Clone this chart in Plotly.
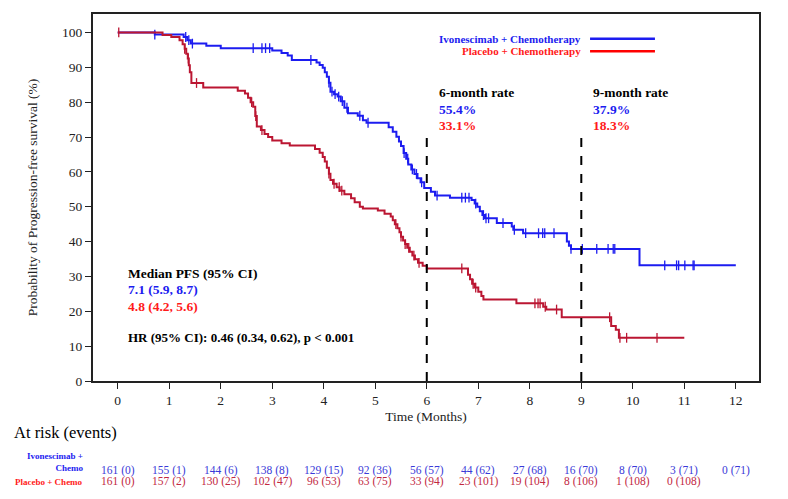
import numpy as np
import plotly.graph_objects as go

# ---------------- data ----------------
ivo_times = [0, 0.72, 1.28, 1.35, 1.42, 1.72, 2.0, 3.0, 3.18, 3.3, 3.38, 3.86, 3.92, 3.98,
             4.02, 4.06, 4.1, 4.13, 4.2, 4.27, 4.33, 4.4, 4.47, 4.66, 4.76, 4.83, 5.26, 5.34,
             5.41, 5.46, 5.5, 5.55, 5.6, 5.64, 5.7, 5.76, 5.82, 5.88, 5.95, 6.08, 6.16, 6.45,
             6.87, 6.93, 6.98, 7.03, 7.08, 7.13, 7.36, 7.65, 7.68, 7.87, 8.72, 8.76, 8.8,
             10.13, 12.0]
ivo_surv = [100, 99.4, 98.7, 97.8, 96.8, 96.2, 95.5, 94.8, 94.1, 93.4, 92.1, 91.4, 90.7, 89.9,
            88.6, 87.3, 85.6, 83.0, 82.3, 81.6, 80.3, 78.4, 76.8, 76.1, 74.8, 74.1, 72.8, 71.5,
            70.1, 68.7, 67.4, 65.4, 63.8, 62.1, 60.7, 59.4, 58.2, 57.0, 55.4, 54.3, 53.2, 52.6,
            51.9, 50.9, 50.0, 48.7, 47.6, 46.7, 45.3, 44.3, 43.4, 42.4, 40.0, 38.8, 37.9,
            33.2, 33.2]
ivo_censor = [0.72, 1.32, 1.38, 1.45, 2.63, 2.8, 2.87, 2.95, 3.75, 4.1, 4.16, 4.22, 4.29,
              4.36, 4.45, 4.7, 4.86, 5.56, 5.63, 5.72, 5.8, 5.9, 6.2, 6.68, 6.75, 6.82, 6.95,
              7.1, 7.15, 7.2, 7.48, 7.7, 7.92, 8.17, 8.25, 8.29, 8.47, 8.8, 9.02, 9.3, 9.52,
              9.62, 9.65, 10.62, 10.85, 10.89, 11.01, 11.17, 11.19]

pbo_times = [0, 0.87, 1.04, 1.2, 1.26, 1.3, 1.33, 1.36, 1.38, 1.4, 1.43, 1.66, 2.33, 2.47,
             2.53, 2.58, 2.63, 2.67, 2.7, 2.78, 2.85, 2.92, 3.0, 3.18, 3.34, 3.83, 3.92, 3.98,
             4.02, 4.06, 4.1, 4.13, 4.18, 4.25, 4.31, 4.4, 4.53, 4.6, 4.7, 4.76, 5.05, 5.18,
             5.3, 5.34, 5.38, 5.43, 5.47, 5.5, 5.54, 5.58, 5.62, 5.67, 5.72, 5.77, 5.83, 5.92,
             6.0, 6.8, 6.84, 6.88, 6.93, 7.0, 7.06, 7.1, 7.74, 8.26, 8.32, 8.62, 9.58, 9.67,
             9.73, 11.0]
pbo_surv = [100, 99.3, 98.7, 97.8, 96.6, 95.3, 93.9, 92.5, 90.6, 88.6, 85.5, 84.2, 83.3, 82.5,
            81.3, 80.0, 78.7, 76.0, 73.0, 72.0, 70.9, 70.0, 69.0, 68.2, 67.6, 66.6, 65.5, 64.3,
            63.0, 61.2, 59.5, 57.7, 56.6, 55.6, 54.6, 53.6, 52.4, 51.3, 50.0, 49.5, 48.9, 48.0,
            47.2, 46.1, 45.0, 43.8, 42.7, 41.4, 40.3, 39.3, 38.2, 37.1, 36.0, 34.9, 33.9, 33.1,
            32.3, 30.5, 29.2, 27.9, 26.8, 25.6, 24.4, 23.4, 22.3, 21.3, 20.5, 18.3, 15.8, 14.7,
            12.4, 12.4]
pbo_censor = [0.02, 1.3, 1.37, 1.53, 2.6, 2.68, 2.8, 4.1, 4.2, 4.3, 4.35, 5.4, 5.5, 5.58,
              5.65, 5.75, 5.85, 6.68, 6.9, 6.95, 8.1, 8.16, 8.2, 8.3, 8.52, 9.55, 9.75, 9.88,
              10.47]

risk_times = list(range(13))
ivo_risk = [161, 155, 144, 138, 129, 92, 56, 44, 27, 16, 8, 3, 0]
ivo_events = [0, 1, 6, 8, 15, 36, 57, 62, 68, 70, 70, 71, 71]
pbo_risk = [161, 157, 130, 102, 96, 63, 33, 23, 19, 8, 1, 0]
pbo_events = [0, 2, 25, 47, 53, 75, 94, 101, 104, 106, 108, 108]

x_ticks = list(range(13))
y_ticks = list(range(0, 101, 10))

# ---------------- styles ----------------
FONT = "Liberation Serif"
BLUE = "#1c1cf0"
RED_LINE = "#bb1632"
RED_TXT = "#ff1a1a"
BLUE_NUM = "#3a3ad8"
RED_NUM = "#c2283f"


def surv_at(times, surv, t):
    idx = np.searchsorted(np.array(times), t, side="right") - 1
    return np.array(surv)[idx]


fig = go.Figure()
for times, surv, cens, col in [(ivo_times, ivo_surv, ivo_censor, BLUE),
                               (pbo_times, pbo_surv, pbo_censor, RED_LINE)]:
    fig.add_trace(go.Scatter(x=times, y=surv, mode="lines", line=dict(color=col, width=2, shape="hv"),
                             showlegend=False, hoverinfo="skip"))
    fig.add_trace(go.Scatter(x=cens, y=surv_at(times, surv, cens), mode="markers",
                             marker=dict(symbol="line-ns-open", size=7, color=col,
                                         line=dict(color=col, width=1.3)),
                             showlegend=False, hoverinfo="skip"))

# dashed reference lines
for xv in [6, 9]:
    fig.add_shape(type="line", x0=xv, x1=xv, y0=0, y1=71.3, xref="x", yref="y",
                  line=dict(color="black", width=2, dash="dash"))

ann = []


def A(text, x, y, color="black", size=13, bold=True, xanchor="left", xref="x", yref="y", align="left"):
    t = f"<b>{text}</b>" if bold else text
    ann.append(dict(text=t, x=x, y=y, xref=xref, yref=yref, xanchor=xanchor, yanchor="middle",
                    showarrow=False, align=align, font=dict(family=FONT, size=size, color=color)))


# legend
A("Ivonescimab + Chemotherapy", 9.03, 98.2, BLUE, 11, xanchor="right")
A("Placebo + Chemotherapy", 9.03, 94.6, RED_TXT, 11, xanchor="right")
fig.add_shape(type="line", x0=9.17, x1=10.43, y0=98.2, y1=98.2, line=dict(color=BLUE, width=2.5))
fig.add_shape(type="line", x0=9.17, x1=10.43, y0=94.6, y1=94.6, line=dict(color="#ff0000", width=2.5))

# rates
A("6-month rate", 6.2, 82.8, "black", 13.5)
A("55.4%", 6.2, 78.0, BLUE, 13.5)
A("33.1%", 6.2, 73.4, RED_TXT, 13.5)
A("9-month rate", 9.19, 82.8, "black", 13.5)
A("37.9%", 9.19, 78.0, BLUE, 13.5)
A("18.3%", 9.19, 73.4, RED_TXT, 13.5)

# median
A("Median PFS (95% CI)", 0.16, 30.8, "black", 13.5)
A("7.1 (5.9, 8.7)", 0.16, 26.2, BLUE, 13.5)
A("4.8 (4.2, 5.6)", 0.16, 21.5, RED_TXT, 13.5)
A("HR (95% CI): 0.46 (0.34, 0.62), p < 0.001", 0.16, 12.6, "black", 13)

# at risk
A("At risk (events)", -0.1216, -0.141, "black", 16.5, bold=False, xref="paper", yref="paper")
A("Ivonescimab +<br>Chemo", -0.012, -0.222, BLUE, 9, xanchor="right", xref="paper", yref="paper",
  align="right")
A("Placebo + Chemo", -0.012, -0.274, RED_TXT, 9, xanchor="right", xref="paper", yref="paper")
for t, n, e in zip(risk_times, ivo_risk, ivo_events):
    A(f"{n} ({e})", t, -0.245, BLUE_NUM, 11.5, bold=False, xanchor="center", yref="paper")
for t, n, e in zip(risk_times, pbo_risk, pbo_events):
    A(f"{n} ({e})", t, -0.275, RED_NUM, 11.5, bold=False, xanchor="center", yref="paper")

axis_common = dict(showline=True, linecolor="#222", linewidth=2, mirror=True, ticks="outside",
                   ticklen=6, tickwidth=1.2, tickcolor="#222", showgrid=False, zeroline=False,
                   tickfont=dict(family=FONT, size=13.5, color="#222"))

fig.update_layout(
    width=788, height=499,
    margin=dict(l=93, r=29, t=12, b=118),
    paper_bgcolor="white", plot_bgcolor="white",
    xaxis=dict(range=[-0.48, 12.45], tickvals=x_ticks, ticktext=[str(v) for v in x_ticks],
               title=dict(text="Time (Months)", font=dict(family=FONT, size=13.5, color="#222"), standoff=4),
               **axis_common),
    yaxis=dict(range=[0, 105.3], tickvals=y_ticks, ticktext=[str(v) for v in y_ticks],
               title=dict(text="Probability of Progression-free survival (%)",
                          font=dict(family=FONT, size=13.5, color="#222"), standoff=21),
               **axis_common),
    annotations=ann,
)

fig.write_html("out.html")
